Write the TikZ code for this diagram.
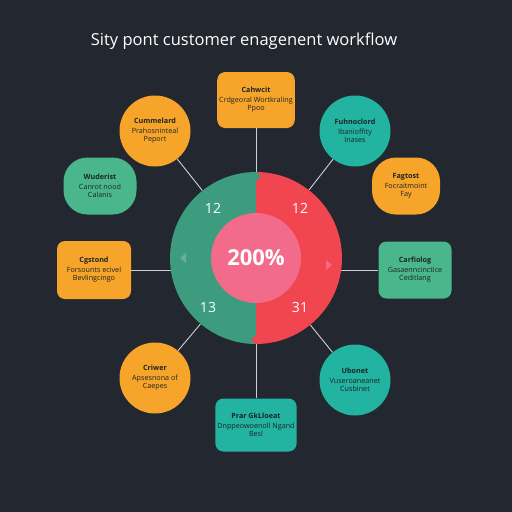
\documentclass[tikz,border=0pt]{standalone}
\usepackage{fontspec}
\setmainfont{Open Sans}
\definecolor{bg}{HTML}{23272F}
\definecolor{orng}{HTML}{F6A52A}
\definecolor{teal}{HTML}{22B3A1}
\definecolor{mgreen}{HTML}{4AB68B}
\definecolor{bgreen}{HTML}{3D9C7E}
\definecolor{bred}{HTML}{F1454F}
\definecolor{pinkc}{HTML}{F26B8A}
\definecolor{linec}{HTML}{CDD1D5}
\definecolor{txt}{HTML}{1D2424}
\tikzset{
  x=1pt,y=-1pt,
  lab/.style={font=\fontsize{7.2}{8.6}\selectfont,text=txt,align=center,inner sep=2pt},
  rbox/.style={lab,rounded corners=8pt,minimum width=75pt,minimum height=56pt},
  blob/.style={lab,rounded corners=24pt,minimum width=73pt,minimum height=57pt},
  cbox/.style={lab,circle,minimum size=71pt,inner sep=0pt},
  conn/.style={draw=linec,line width=0.9pt},
  num/.style={text=white,font=\fontsize{14}{16}\selectfont},
}
\newcommand{\bx}[2]{\textbf{#1}\\[1pt]#2}
\begin{document}
\begin{tikzpicture}
\fill[bg] (0,0) rectangle (512,512);
\useasboundingbox (0,0) rectangle (512,512);
\node[text=white,font=\fontsize{16.5}{19}\selectfont] (title) at (244,41) {Sity pont customer enagenent workflow};

% boxes
\node[rbox,fill=orng] (b1) at (256,100) {\bx{Cahwcit}{Crdgeoral Wortkraling\\Ppoo}};
\node[cbox,fill=orng] (b2) at (155,131) {\bx{Cummelard}{Prahosninteal\\Peport}};
\node[cbox,fill=teal] (b3) at (355,131) {\bx{Fuhnoclord}{Ibanioffity\\Inases}};
\node[blob,fill=mgreen] (b4) at (100,186) {\bx{Wuderist}{Canrot nood\\Calanis}};
\node[blob,fill=orng,minimum width=68pt] (b5) at (406,186) {\bx{Fagtost}{Focraitmoint\\Fay}};
\node[rbox,fill=orng,minimum width=74pt,minimum height=58pt] (b6) at (94,270) {\bx{Cgstond}{Forsounts ecivel\\Bevlingcingo}};
\node[rbox,fill=mgreen,minimum width=73pt,minimum height=57pt] (b7) at (415,270) {\bx{Carfiolog}{Gasaenncinctice\\Ceditlang}};
\node[cbox,fill=orng] (b8) at (155,378) {\bx{Criwer}{Apsesnona of\\Caepes}};
\node[cbox,fill=teal] (b9) at (355,380) {\bx{Ubonet}{Vuseroaneanet\\Cusbinet}};
\node[rbox,fill=teal,minimum width=76pt,minimum height=53pt] (b10) at (256,425) {\bx{Prar GkLloeat}{Dnppeowoenoll Ngand\\Besl}};

% center circle (outline node) and connectors beneath the fills
\node[circle,minimum size=172pt,inner sep=0pt] (circ) at (256,258) {};
\draw[conn] (b1.south) -- (circ.north);
\draw[conn] (b2) -- (circ);
\draw[conn] (b3) -- (circ);
\draw[conn] (b6.east) -- (b6.east -| circ.center);
\draw[conn] (b7.west) -- (b7.west -| circ.center);
\draw[conn] (b8) -- (circ);
\draw[conn] (b9) -- (circ);
\draw[conn] (circ.south) -- (b10.north);

\fill[bgreen] (256,172) arc[start angle=-90,end angle=-270,radius=86] -- cycle;
\fill[bred] (256,172) arc[start angle=-90,end angle=90,radius=86] -- cycle;
\fill[bgreen] (256,172) -- (261,176) -- (256,181) -- cycle;
\fill[bred] (256,344) -- (251,340) -- (256,335) -- cycle;
\fill[bgreen!80!white] (180,258) -- (186,253) -- (186,263) -- cycle;
\fill[pinkc] (332,265) -- (326,260) -- (326,270) -- cycle;
\node[circle,fill=pinkc,minimum size=90pt,inner sep=0pt,text=white,font=\bfseries\fontsize{22}{24}\selectfont] (inner) at (256,258) {200\%};
\node[num] (n1) at (213,208) {12};
\node[num] (n2) at (300,208) {12};
\node[num] (n3) at (208,307) {13};
\node[num] (n4) at (300,307) {31};
\end{tikzpicture}
\end{document}
